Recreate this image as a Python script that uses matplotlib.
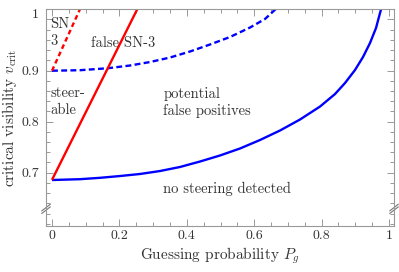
import numpy as np
import matplotlib
matplotlib.use("Agg")
import matplotlib.pyplot as plt
import matplotlib.transforms as mtransforms
from matplotlib.ticker import MultipleLocator

plt.rcParams['font.family'] = 'serif'
plt.rcParams['font.serif'] = ['cmr10', 'DejaVu Serif']
plt.rcParams['mathtext.fontset'] = 'cm'
plt.rcParams['axes.formatter.use_mathtext'] = True

# curves: guessing probability -> critical visibility
pg_red = [0.0, 0.253]
v_red = [0.686, 1.02]

pg_red_dash = [0.0, 0.083]
v_red_dash = [0.8996, 1.02]

pg_blue = [0.0, 0.0831, 0.1424, 0.2018, 0.2611, 0.3205, 0.3798, 0.4392, 0.4985, 0.5579,
           0.6172, 0.6766, 0.7359, 0.7953, 0.8398, 0.8694, 0.8991, 0.9228, 0.9436, 0.9614, 0.9763]
v_blue = [0.6857, 0.6873, 0.6900, 0.6935, 0.6975, 0.7033, 0.7112, 0.7219, 0.7337, 0.7474,
          0.7640, 0.7826, 0.8041, 0.8295, 0.8540, 0.8755, 0.9010, 0.9264, 0.9538, 0.9832, 1.0198]

pg_blue_dash = [0.0, 0.0831, 0.1662, 0.2315, 0.2908, 0.3501, 0.4095, 0.4688, 0.5282, 0.5875, 0.6320, 0.663]
v_blue_dash = [0.8996, 0.9006, 0.9045, 0.9098, 0.9166, 0.9254, 0.9372, 0.9509, 0.9656, 0.9841, 1.0008, 1.0198]

xticks = [0, 0.2, 0.4, 0.6, 0.8, 1]
xtick_labels = ['0', '0.2', '0.4', '0.6', '0.8', '1']
yticks = [0.7, 0.8, 0.9, 1.0]
ytick_labels = ['0.7', '0.8', '0.9', '1']

W, H = 399, 272
fig = plt.figure(figsize=(W / 100, H / 100), dpi=100)
ax = fig.add_axes([46 / W, 1 - 226 / H, 348 / W, 216.7 / H])

lw = 1.7
ax.plot(pg_blue, v_blue, color='#0000ff', lw=lw, solid_capstyle='butt', solid_joinstyle='round')
ax.plot(pg_blue_dash, v_blue_dash, color='#0000ff', lw=lw, dashes=(2.5, 1.4))
ax.plot(pg_red, v_red, color='#ff0000', lw=lw, solid_capstyle='butt')
ax.plot(pg_red_dash, v_red_dash, color='#ff0000', lw=lw, dashes=(2.0, 1.4))

ax.set_xlim(-0.0178, 1.0148)
ax.set_ylim(0.5957, 1.0198)

txt = '#333333'
ax.set_xticks(xticks)
ax.set_xticklabels(xtick_labels)
ax.set_yticks(yticks)
ax.set_yticklabels(ytick_labels)
ax.xaxis.set_minor_locator(MultipleLocator(0.05))
ax.yaxis.set_minor_locator(MultipleLocator(0.02))
ax.tick_params(which='both', direction='in', top=True, right=True, color='#999999',
               labelcolor=txt, labelsize=10, width=0.7)
ax.tick_params(which='major', length=5)
ax.tick_params(axis='x', which='major', pad=3)
ax.tick_params(axis='y', which='major', pad=5)
ax.tick_params(which='minor', length=3)
for s in ax.spines.values():
    s.set_color('#999999')
    s.set_linewidth(0.8)

# the "1" label sits at the top edge of the frame in the original
top_lbl = ax.get_yticklabels()[-1]
top_lbl.set_transform(top_lbl.get_transform() +
                      mtransforms.ScaledTranslation(0, 6 / 100, fig.dpi_scale_trans))

ax.set_xlabel(r'Guessing probability $P_g$', fontsize=11, color=txt, labelpad=2)
ax.set_ylabel(r'critical visibility $v_{\rm crit}$', fontsize=11, color=txt, labelpad=2)

fs = 10.5
ax.text(-0.005, 0.974, 'SN\n3', fontsize=fs, color=txt, ha='left', va='center', linespacing=1.3)
ax.text(0.115, 0.953, 'false SN-3', fontsize=fs, color=txt, ha='left', va='center')
ax.text(-0.005, 0.839, 'steer-\nable', fontsize=fs, color=txt, ha='left', va='center', linespacing=1.3)
ax.text(0.33, 0.837, 'potential\nfalse positives', fontsize=fs, color=txt, ha='left', va='center', linespacing=1.3)
ax.text(0.33, 0.669, 'no steering detected', fontsize=fs, color=txt, ha='left', va='center')

# axis break marks on both vertical spines
for xa in (0.0, 1.0):
    for dy in (-0.012, 0.0):
        ax.plot([xa - 0.012, xa + 0.012], [0.07 + dy, 0.10 + dy], transform=ax.transAxes,
                color='#777777', lw=0.8, clip_on=False)

fig.savefig('out.png', dpi=100)
